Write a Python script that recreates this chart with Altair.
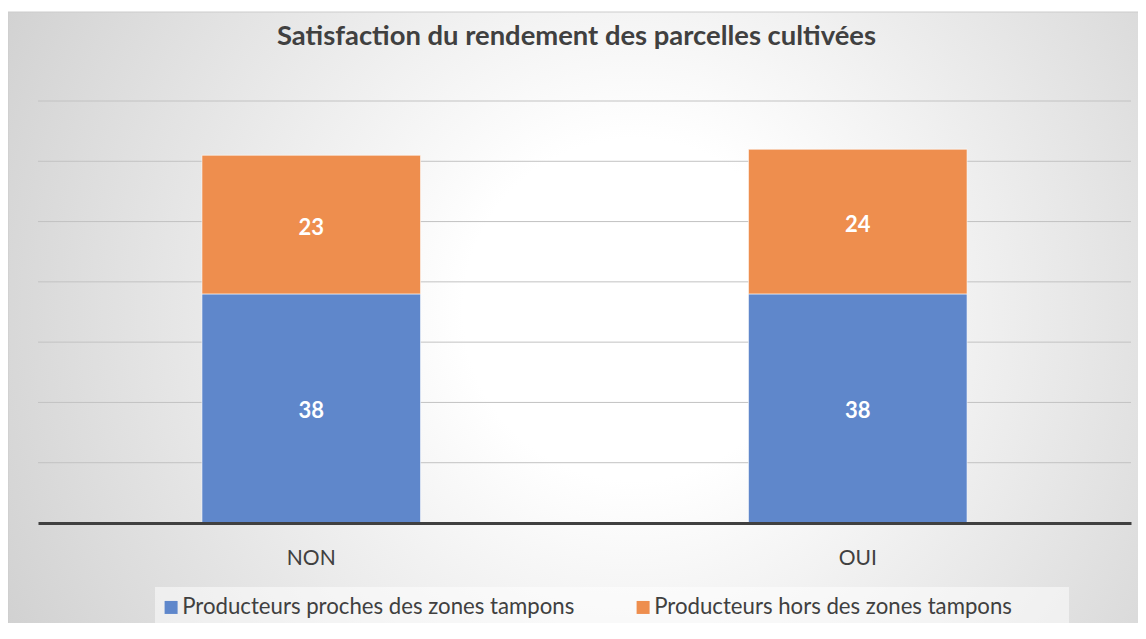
import altair as alt
import pandas as pd

categories = ["NON", "OUI"]
series = ["Producteurs proches des zones tampons", "Producteurs hors des zones tampons"]
proches = [38, 38]
hors = [23, 24]
grid_values = [10, 20, 30, 40, 50, 60, 70]
title_text = "Satisfaction du rendement des parcelles cultivées"

rows = []
for i, c in enumerate(categories):
    rows.append({"cat": c, "serie": series[0], "value": proches[i], "ord": 0})
    rows.append({"cat": c, "serie": series[1], "value": hors[i], "ord": 1})
df = pd.DataFrame(rows)
grid_df = pd.DataFrame({"g": grid_values})

W, H = 1093, 422
FONT = "Lato"
TXT = "#404040"
one = pd.DataFrame({"a": [0]})

bg = alt.Chart(one).mark_rect(
    fill=alt.Gradient(
        gradient="radial",
        stops=[alt.GradientStop(color="#ffffff", offset=0),
               alt.GradientStop(color="#ffffff", offset=0.2),
               alt.GradientStop(color="#c4c4c4", offset=1)],
        x1=0.55, y1=0.48, r1=0, x2=0.55, y2=0.48, r2=0.75),
    stroke="#cccccc", strokeWidth=1,
).encode(x=alt.value(-30), x2=alt.value(W + 15), y=alt.value(-89), y2=alt.value(H + 130))

legend_box = alt.Chart(one).mark_rect(fill="white", opacity=0.5).encode(
    x=alt.value(117), x2=alt.value(1031), y=alt.value(486), y2=alt.value(522)
)

title = alt.Chart(one).mark_text(
    font=FONT, fontSize=27.4, fontWeight="bold", color=TXT, baseline="alphabetic", align="center"
).encode(x=alt.value(W / 2 - 8), y=alt.value(-56), text=alt.value(title_text))

y_scale = alt.Scale(domain=[0, 70], nice=False)

grid = alt.Chart(grid_df).mark_rule(color="#c2c2c2", strokeWidth=1).encode(
    y=alt.Y("g:Q", scale=y_scale, axis=None),
    x=alt.value(0), x2=alt.value(W),
)

base = alt.Chart(df)

bars = base.mark_bar(stroke="white", strokeOpacity=0.6, strokeWidth=1).encode(
    x=alt.X("cat:N", sort=categories,
            scale=alt.Scale(paddingInner=0.6, paddingOuter=0.3),
            axis=alt.Axis(title=None, labelAngle=0, ticks=False, tickSize=0,
                          domainColor="#404040", domainWidth=3,
                          labelFont=FONT, labelFontSize=21, labelColor=TXT,
                          labelPadding=24, grid=False, zindex=1)),
    y=alt.Y("value:Q", stack="zero", scale=y_scale, axis=None),
    color=alt.Color("serie:N", sort=series,
                    scale=alt.Scale(domain=series, range=["#5f87cb", "#ee8e4e"]),
                    legend=alt.Legend(title=None, orient="none", legendX=122, legendY=495,
                                      direction="horizontal", symbolType="square",
                                      symbolSize=169, symbolStrokeWidth=0,
                                      labelFont=FONT, labelFontSize=22.2, labelColor=TXT,
                                      labelLimit=600,
                                      labelOffset=0, columnPadding=57, padding=0)),
    order=alt.Order("ord:Q"),
)

labels = base.transform_stack(
    stack="value", groupby=["cat"], as_=["v0", "v1"], sort=[alt.SortField("ord")]
).transform_calculate(mid="(datum.v0 + datum.v1) / 2").mark_text(
    font=FONT, fontSize=22, fontWeight="bold", color="white", baseline="middle", dy=3
).encode(
    x=alt.X("cat:N", sort=categories),
    y=alt.Y("mid:Q"),
    text=alt.Text("value:Q"),
)

chart = alt.layer(bg, legend_box, title, grid, bars, labels).properties(
    width=W, height=H,
    autosize=alt.AutoSizeParams(type="none"),
    padding={"left": 30, "top": 93, "right": 7, "bottom": 100},
).configure_view(strokeWidth=0).configure(background="white")

chart.save("out.html", embed_options={"renderer": "svg", "actions": False})
